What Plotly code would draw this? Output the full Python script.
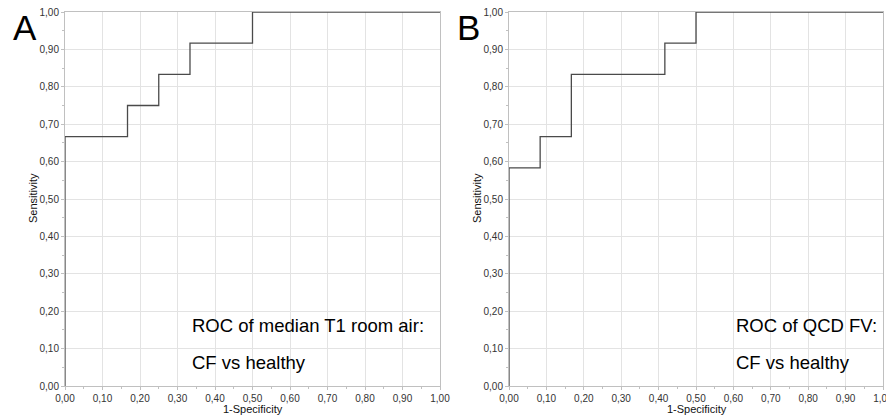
import plotly.graph_objects as go

# ROC curve A: median T1 room air
fpr_a = [0.0, 0.0, 0.1667, 0.1667, 0.25, 0.25, 0.3333, 0.3333, 0.5, 0.5, 1.0]
tpr_a = [0.0, 0.6667, 0.6667, 0.75, 0.75, 0.8333, 0.8333, 0.9167, 0.9167, 1.0, 1.0]
# ROC curve B: QCD FV
fpr_b = [0.0, 0.0, 0.0833, 0.0833, 0.1667, 0.1667, 0.4167, 0.4167, 0.5, 0.5, 1.0]
tpr_b = [0.0, 0.5833, 0.5833, 0.6667, 0.6667, 0.8333, 0.8333, 0.9167, 0.9167, 1.0, 1.0]

tick_vals = [i / 10 for i in range(11)]
tick_text = ["0,00", "0,10", "0,20", "0,30", "0,40", "0,50", "0,60", "0,70", "0,80", "0,90", "1,00"]
panel_labels = ["A", "B"]
notes = [["ROC of median T1 room air:", "CF vs healthy"], ["ROC of QCD FV:", "CF vs healthy"]]

W, H = 886, 415


def px(x):
    return x / W


def py(y):
    return 1 - y / H


dom_x = [(px(65), px(440)), (px(509), px(883))]
dom_y = (py(386), py(12))

fig = go.Figure()
for i, (fx, ty) in enumerate([(fpr_a, tpr_a), (fpr_b, tpr_b)]):
    xa = "x" if i == 0 else "x2"
    ya = "y" if i == 0 else "y2"
    fig.add_trace(go.Scatter(x=fx, y=ty, mode="lines", xaxis=xa, yaxis=ya,
                             line=dict(color="#4a4a4a", width=1.3), showlegend=False,
                             cliponaxis=False))

axis_common = dict(range=[0, 1], tickvals=tick_vals, ticktext=tick_text,
                   showgrid=True, gridcolor="#e3e3e3", gridwidth=1,
                   showline=True, linecolor="#c0c0c0", linewidth=1, mirror=True,
                   ticks="outside", ticklen=3, tickcolor="#c0c0c0",
                   minor=dict(dtick=0.05, ticks="outside", ticklen=2, tickcolor="#c0c0c0", showgrid=False),
                   tickfont=dict(family="Liberation Sans, Arial", size=10, color="#333333"),
                   ticklabeloverflow="allow",
                   zeroline=False, fixedrange=True, automargin=False)

fig.update_layout(
    width=W, height=H,
    margin=dict(l=0, r=0, t=0, b=0, autoexpand=False),
    paper_bgcolor="white", plot_bgcolor="white",
    font=dict(family="Liberation Sans, Arial", color="#000000"),
    xaxis=dict(domain=dom_x[0], anchor="y", **axis_common),
    yaxis=dict(domain=dom_y, anchor="x", **axis_common),
    xaxis2=dict(domain=dom_x[1], anchor="y2", **axis_common),
    yaxis2=dict(domain=dom_y, anchor="x2", **axis_common),
)

letter_x = [11, 455]
xtitle_x = [253, 697]
ytitle_x = [33, 477]
note_x = [190, 734]
for i in range(2):
    fig.add_annotation(text=panel_labels[i], xref="paper", yref="paper",
                       x=px(letter_x[i]), y=py(6), xanchor="left", yanchor="top",
                       showarrow=False, font=dict(size=35, color="#000000"))
    fig.add_annotation(text="1-Specificity", xref="paper", yref="paper",
                       x=px(xtitle_x[i]), y=py(408.5), xanchor="center", yanchor="middle",
                       showarrow=False, font=dict(size=11, color="#111111"))
    fig.add_annotation(text="Sensitivity", xref="paper", yref="paper",
                       x=px(ytitle_x[i]), y=py(198), xanchor="center", yanchor="middle",
                       textangle=-90, showarrow=False, font=dict(size=11, color="#111111"))
    fig.add_annotation(text=notes[i][0], xref="paper", yref="paper",
                       x=px(note_x[i]), y=py(325), xanchor="left", yanchor="middle",
                       showarrow=False, font=dict(size=18.5, color="#000000"))
    fig.add_annotation(text=notes[i][1], xref="paper", yref="paper",
                       x=px(note_x[i]), y=py(362), xanchor="left", yanchor="middle",
                       showarrow=False, font=dict(size=18.5, color="#000000"))

fig.write_html("out.html", config={"displayModeBar": False},
               post_script="document.body.style.margin='0';")
